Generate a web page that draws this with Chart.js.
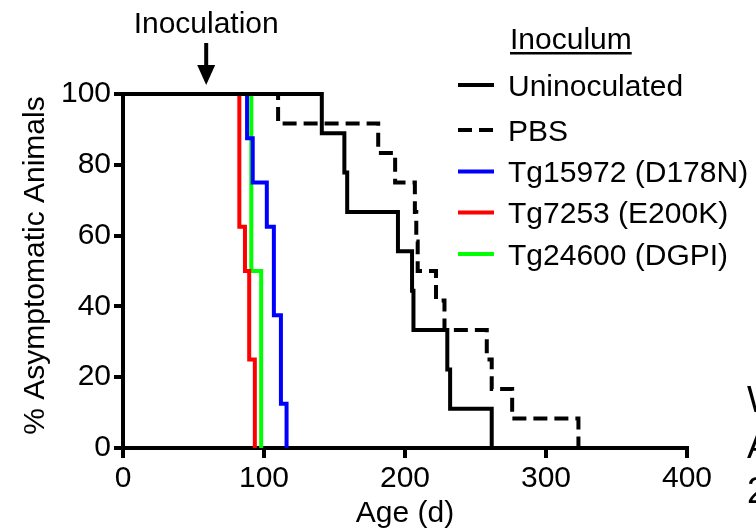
<!DOCTYPE html>
<html>
<head>
<meta charset="utf-8">
<script src="https://cdn.jsdelivr.net/npm/chart.js@4"></script>
<style>
  html, body { margin: 0; padding: 0; background: #fff; }
  canvas { display: block; }
</style>
</head>
<body>
<canvas id="myChart" width="756" height="532"></canvas>
<script>
// survival data (days, % asymptomatic)
const uninocDays = [0, 141, 157, 159, 195, 205, 206, 230, 232, 261.5];
const uninocPct = [100, 88.9, 77.8, 66.7, 55.6, 44.4, 33.3, 22.2, 11.1, 0];

const pbsDays = [0, 110, 181, 193, 207, 208, 209, 222, 228, 258, 261.5, 276, 323];
const pbsPct = [100, 91.7, 83.3, 75, 66.7, 58.3, 50, 41.7, 33.3, 25, 16.7, 8.3, 0];

const d178nDays = [0, 88, 92, 102, 107, 112, 116];
const d178nPct = [100, 87.5, 75, 62.5, 37.5, 12.5, 0];

const e200kDays = [0, 82.5, 86.5, 89.5, 93.5];
const e200kPct = [100, 62.5, 50, 25, 0];

const dgpiDays = [0, 91, 98];
const dgpiPct = [100, 50, 0];

const seriesLabels = ["Uninoculated", "PBS", "Tg15972 (D178N)", "Tg7253 (E200K)", "Tg24600 (DGPI)"];
const xTicks = [0, 100, 200, 300, 400];
const yTicks = [0, 20, 40, 60, 80, 100];
const inoculationDay = 59;
const yTitle = "% Asymptomatic Animals";
const cutOffLines = ["W", "A", "2"];

const FONT = "'Liberation Sans', Arial, sans-serif";

function toPoints(days, pct) {
  return days.map((d, i) => ({ x: d, y: pct[i] }));
}

function makeSet(label, days, pct, color, dash) {
  return {
    label: label,
    data: toPoints(days, pct),
    borderColor: color,
    backgroundColor: color,
    borderWidth: 4,
    borderDash: dash || [],
    pointRadius: 0,
    stepped: "before",
    fill: false,
    clip: false,
  };
}

// extra drawing: y title, inoculation arrow, legend, cut-off text on the right
const extras = {
  id: "extras",
  afterDraw(chart) {
    const ctx = chart.ctx;
    const xs = chart.scales.x;
    ctx.save();
    ctx.fillStyle = "#000";
    ctx.strokeStyle = "#000";
    ctx.font = "30px " + FONT;

    // y axis title (sits a little above the plot centre in the original)
    ctx.save();
    ctx.translate(43.5, 265.5);
    ctx.rotate(-Math.PI / 2);
    ctx.textAlign = "center";
    ctx.textBaseline = "alphabetic";
    ctx.fillText(yTitle, 0, 0);
    ctx.restore();

    // Inoculation label + arrow
    const ax = xs.getPixelForValue(inoculationDay);
    ctx.textAlign = "center";
    ctx.textBaseline = "alphabetic";
    ctx.fillText("Inoculation", ax, 33);
    ctx.lineWidth = 4;
    ctx.beginPath();
    ctx.moveTo(ax, 43);
    ctx.lineTo(ax, 68);
    ctx.stroke();
    ctx.beginPath();
    ctx.moveTo(ax - 9, 65);
    ctx.lineTo(ax + 9, 65);
    ctx.lineTo(ax, 85);
    ctx.closePath();
    ctx.fill();

    // legend
    ctx.textAlign = "left";
    ctx.fillText("Inoculum", 510, 49);
    const w = ctx.measureText("Inoculum").width;
    ctx.fillRect(510, 52, w, 2.5);
    const rowY = [85, 130, 171.5, 212.5, 254];
    chart.data.datasets.forEach((ds, i) => {
      const y = rowY[i];
      ctx.strokeStyle = ds.borderColor;
      ctx.lineWidth = 4;
      ctx.setLineDash(ds.borderDash);
      ctx.beginPath();
      ctx.moveTo(458, y);
      ctx.lineTo(494, y);
      ctx.stroke();
      ctx.setLineDash([]);
      ctx.fillText(ds.label, 508, y + 10.5);
    });

    // text cut by the right edge
    ctx.font = "36px " + FONT;
    cutOffLines.forEach((t, i) => {
      ctx.fillText(t, 747, 412 + i * 45.5);
    });
    ctx.restore();
  },
};

const chart = new Chart(document.getElementById("myChart").getContext("2d"), {
  type: "line",
  data: {
    datasets: [
      makeSet(seriesLabels[0], uninocDays, uninocPct, "#000000"),
      makeSet(seriesLabels[1], pbsDays, pbsPct, "#000000", [14, 7]),
      makeSet(seriesLabels[2], d178nDays, d178nPct, "#0000ff"),
      makeSet(seriesLabels[3], e200kDays, e200kPct, "#ff0000"),
      makeSet(seriesLabels[4], dgpiDays, dgpiPct, "#00ff00"),
    ],
  },
  options: {
    responsive: false,
    animation: false,
    layout: { padding: { top: 94, right: 69, left: 0, bottom: 0 } },
    plugins: {
      legend: { display: false },
      tooltip: { enabled: false },
    },
    scales: {
      x: {
        type: "linear",
        min: 0,
        max: 400,
        afterBuildTicks: (s) => { s.ticks = xTicks.map((v) => ({ value: v })); },
        afterFit: (s) => { s.height = 84; },
        grid: { drawOnChartArea: false, drawTicks: true, tickLength: 10, color: "#000", lineWidth: 4 },
        border: { display: true, color: "#000", width: 4 },
        ticks: { color: "#000", font: { family: FONT, size: 30 }, padding: 3, maxRotation: 0 },
        title: { display: true, text: "Age (d)", color: "#000", font: { family: FONT, size: 30 }, padding: { top: 0, bottom: 0 } },
      },
      y: {
        min: 0,
        max: 100,
        afterBuildTicks: (s) => { s.ticks = yTicks.map((v) => ({ value: v })); },
        afterFit: (s) => { s.width = 123; },
        grid: { drawOnChartArea: false, drawTicks: true, tickLength: 9, color: "#000", lineWidth: 4 },
        border: { display: true, color: "#000", width: 4 },
        ticks: { color: "#000", font: { family: FONT, size: 30 }, padding: 3 },
        title: { display: false },
      },
    },
  },
  plugins: [extras],
});
</script>
</body>
</html>
